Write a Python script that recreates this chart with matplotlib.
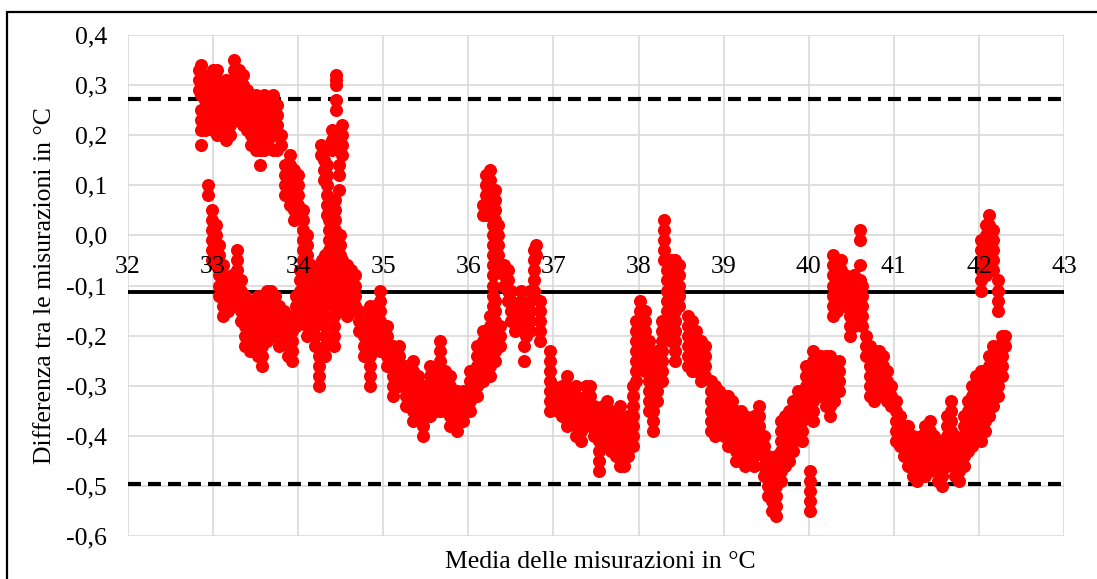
import matplotlib.pyplot as plt
from matplotlib.patches import Rectangle
from matplotlib.transforms import offset_copy

# Bland-Altman: mean of the two measurements (x) vs difference (y)
# each entry is (mean, [differences read at that mean])
top_cluster = [
    (32.84, [0.33, 0.31, 0.29]),
    (32.86, [0.34, 0.31, 0.28, 0.25, 0.23, 0.21, 0.18]),
    (32.90, [0.31, 0.29, 0.27, 0.25, 0.23, 0.21]),
    (32.95, [0.32, 0.30, 0.28, 0.26, 0.24, 0.22]),
    (33.00, [0.33, 0.31, 0.29, 0.27, 0.25, 0.23, 0.21]),
    (33.05, [0.33, 0.31, 0.29, 0.27, 0.25, 0.22, 0.20]),
    (33.10, [0.30, 0.28, 0.26, 0.24, 0.22]),
    (33.15, [0.31, 0.29, 0.27, 0.25, 0.23, 0.21, 0.19]),
    (33.20, [0.30, 0.28, 0.26, 0.24, 0.22, 0.20]),
    (33.25, [0.35, 0.33, 0.31, 0.29, 0.27, 0.25]),
    (33.30, [0.33, 0.31, 0.29, 0.27, 0.25, 0.23]),
    (33.35, [0.32, 0.30, 0.28, 0.26, 0.24, 0.22]),
    (33.40, [0.29, 0.27, 0.25, 0.23, 0.21]),
    (33.45, [0.28, 0.26, 0.24, 0.22, 0.20, 0.18]),
    (33.50, [0.28, 0.26, 0.24, 0.22, 0.20, 0.17]),
    (33.55, [0.27, 0.25, 0.23, 0.21, 0.19, 0.17, 0.14]),
    (33.60, [0.28, 0.26, 0.24, 0.22, 0.20, 0.17]),
    (33.65, [0.27, 0.25, 0.23, 0.21, 0.19]),
    (33.70, [0.28, 0.26, 0.24, 0.22, 0.20, 0.17]),
    (33.75, [0.26, 0.24, 0.22, 0.20, 0.17]),
    (33.80, [0.20, 0.18]),
    (33.85, [0.14, 0.12, 0.10, 0.08]),
    (33.90, [0.16, 0.14, 0.12, 0.10, 0.08, 0.06]),
    (33.95, [0.13, 0.11, 0.09, 0.07, 0.05, 0.03]),
    (34.00, [0.12, 0.10, 0.08, 0.06, 0.04]),
    (34.06, [0.05, 0.03, 0.01, -0.01, -0.03, -0.05]),
    (34.10, [0.00, -0.02, -0.04, -0.06, -0.08]),
]

low_33_34 = [
    (32.94, [0.10, 0.08]),
    (32.99, [0.05, 0.03, 0.01, -0.01, -0.03, -0.05]),
    (33.03, [0.02, 0.00, -0.02, -0.04, -0.06]),
    (33.07, [-0.02, -0.04, -0.06, -0.08, -0.10, -0.12]),
    (33.12, [-0.06, -0.08, -0.10, -0.12, -0.14, -0.16]),
    (33.17, [-0.09, -0.11, -0.13, -0.15]),
    (33.22, [-0.08, -0.10, -0.12, -0.14]),
    (33.28, [-0.03, -0.05, -0.07, -0.09, -0.11, -0.13]),
    (33.33, [-0.09, -0.11, -0.13, -0.15, -0.17]),
    (33.38, [-0.12, -0.14, -0.16, -0.18, -0.20, -0.22]),
    (33.43, [-0.13, -0.15, -0.17, -0.19, -0.21, -0.23]),
    (33.48, [-0.14, -0.16, -0.18, -0.20, -0.22]),
    (33.53, [-0.12, -0.14, -0.16, -0.18, -0.20, -0.22, -0.24]),
    (33.58, [-0.14, -0.16, -0.18, -0.20, -0.22, -0.24, -0.26]),
    (33.63, [-0.11, -0.13, -0.15, -0.17, -0.19, -0.21]),
    (33.68, [-0.11, -0.13, -0.15, -0.17, -0.19]),
    (33.73, [-0.12, -0.14, -0.16, -0.18, -0.20]),
    (33.78, [-0.14, -0.16, -0.18, -0.20, -0.22]),
    (33.83, [-0.15, -0.17, -0.19, -0.21]),
    (33.88, [-0.16, -0.18, -0.20, -0.22, -0.24]),
    (33.93, [-0.17, -0.19, -0.21, -0.23, -0.25]),
    (33.98, [-0.12, -0.14, -0.16, -0.18]),
]

spike_34 = [
    (34.27, [0.18, 0.16]),
    (34.30, [0.17, 0.15, 0.13, 0.11]),
    (34.34, [0.14, 0.12, 0.10, 0.08, 0.06, 0.04]),
    (34.36, [0.05, 0.03, 0.01, -0.01, -0.03]),
    (34.40, [0.21, 0.19, 0.17]),
    (34.43, [0.07, 0.05, 0.03, 0.01, -0.01, -0.03]),
    (34.45, [0.32, 0.31, 0.30, 0.27]),
    (34.44, [0.25]),
    (34.48, [0.14, 0.12, 0.09]),
    (34.49, [0.00, -0.02, -0.04, -0.06]),
    (34.51, [0.22, 0.20, 0.18, 0.16]),
]

low_34_35 = [
    (34.02, [-0.07, -0.09, -0.11, -0.13]),
    (34.06, [-0.08, -0.10, -0.12, -0.14, -0.16]),
    (34.10, [-0.10, -0.12, -0.14, -0.16, -0.18, -0.20]),
    (34.15, [-0.06, -0.08, -0.10, -0.12, -0.14, -0.16]),
    (34.20, [-0.10, -0.12, -0.14, -0.16, -0.18, -0.20, -0.22]),
    (34.24, [-0.24, -0.26, -0.28, -0.30]),
    (34.28, [-0.05, -0.07, -0.09, -0.11, -0.13, -0.15, -0.17]),
    (34.32, [-0.04, -0.06, -0.08, -0.10, -0.12, -0.14, -0.16, -0.18, -0.20, -0.22, -0.24]),
    (34.37, [-0.05, -0.07, -0.09, -0.11, -0.13]),
    (34.42, [-0.06, -0.08, -0.10, -0.12, -0.14, -0.16, -0.18, -0.20, -0.22]),
    (34.47, [-0.04, -0.06, -0.08, -0.10]),
    (34.52, [-0.05, -0.07, -0.09, -0.11, -0.13, -0.15]),
    (34.57, [-0.06, -0.08, -0.10, -0.12, -0.14, -0.16]),
    (34.62, [-0.07, -0.09, -0.11, -0.13, -0.15]),
    (34.67, [-0.08, -0.10, -0.12, -0.14]),
    (34.72, [-0.15, -0.17, -0.19]),
    (34.77, [-0.18, -0.20, -0.22, -0.24]),
    (34.84, [-0.14, -0.16, -0.18, -0.20, -0.22, -0.24, -0.26, -0.28, -0.30]),
    (34.90, [-0.14, -0.16, -0.18, -0.20, -0.22]),
    (34.96, [-0.11, -0.13, -0.15, -0.17, -0.19, -0.21, -0.23]),
    (35.04, [-0.18, -0.20, -0.22, -0.24, -0.26]),
    (35.11, [-0.22, -0.24, -0.26, -0.28, -0.30, -0.32]),
    (35.19, [-0.22, -0.24, -0.26, -0.28, -0.30]),
    (35.27, [-0.26, -0.28, -0.30, -0.32, -0.34]),
    (35.35, [-0.25, -0.27, -0.29, -0.31, -0.33, -0.35, -0.37]),
    (35.41, [-0.28, -0.30, -0.32, -0.34, -0.36]),
    (35.47, [-0.30, -0.32, -0.34, -0.36, -0.38, -0.40]),
    (35.55, [-0.26, -0.28, -0.30, -0.32, -0.34, -0.36]),
    (35.61, [-0.27, -0.29, -0.31, -0.33, -0.35]),
    (35.67, [-0.21, -0.23, -0.25, -0.27, -0.29, -0.31, -0.33, -0.35]),
    (35.73, [-0.27, -0.29, -0.31, -0.33, -0.35]),
    (35.78, [-0.28, -0.30, -0.32, -0.34, -0.36, -0.38]),
    (35.87, [-0.31, -0.33, -0.35, -0.37, -0.39]),
    (35.94, [-0.31, -0.33, -0.35, -0.37]),
    (36.02, [-0.27, -0.29, -0.31, -0.33, -0.35]),
    (36.10, [-0.22, -0.24, -0.26, -0.28, -0.30, -0.32]),
    (36.17, [-0.19, -0.21, -0.23, -0.25, -0.27, -0.29]),
    (36.25, [-0.16, -0.18, -0.20, -0.22, -0.24, -0.26, -0.28]),
    (36.31, [-0.13, -0.15, -0.17, -0.19, -0.21, -0.23, -0.25]),
    (36.37, [-0.18, -0.20, -0.22]),
]

spike_36 = [
    (36.17, [0.06, 0.04]),
    (36.21, [0.12, 0.10, 0.08, 0.06, 0.04]),
    (36.25, [0.13, 0.11, 0.09, 0.07, 0.05]),
    (36.29, [0.02, 0.00, -0.02, -0.04, -0.06, -0.08, -0.10, -0.12, -0.14]),
    (36.31, [0.09, 0.07, 0.05, 0.03, 0.01]),
    (36.35, [0.02, 0.00, -0.02, -0.04, -0.06]),
    (36.42, [-0.06, -0.08, -0.10]),
    (36.47, [-0.07, -0.09, -0.11, -0.13]),
    (36.50, [-0.11, -0.13, -0.15, -0.17]),
    (36.55, [-0.15, -0.17, -0.19]),
    (36.62, [-0.11, -0.13, -0.15, -0.17]),
    (36.65, [-0.22, -0.25]),
    (36.68, [-0.14, -0.16, -0.18, -0.20]),
    (36.72, [-0.11, -0.13, -0.15, -0.17, -0.19]),
    (36.77, [-0.03, -0.05, -0.07, -0.09, -0.11]),
    (36.80, [-0.02, -0.04]),
    (36.84, [-0.13, -0.15, -0.17, -0.19, -0.21]),
]

low_37_38 = [
    (36.96, [-0.23, -0.25, -0.27, -0.29, -0.31, -0.33, -0.35]),
    (37.00, [-0.30, -0.32, -0.34]),
    (37.05, [-0.31, -0.33, -0.35]),
    (37.10, [-0.30, -0.32, -0.34, -0.36]),
    (37.16, [-0.28, -0.30, -0.32, -0.34, -0.36, -0.38]),
    (37.22, [-0.31, -0.33, -0.35, -0.37]),
    (37.27, [-0.30, -0.32, -0.34, -0.36, -0.38, -0.40]),
    (37.32, [-0.33, -0.35, -0.37, -0.39, -0.41]),
    (37.38, [-0.30, -0.32, -0.34, -0.36]),
    (37.43, [-0.30, -0.32, -0.34, -0.36, -0.38]),
    (37.48, [-0.34, -0.36, -0.38, -0.40]),
    (37.53, [-0.35, -0.37, -0.39, -0.41, -0.43, -0.45, -0.47]),
    (37.58, [-0.34, -0.36, -0.38, -0.40, -0.42]),
    (37.63, [-0.33, -0.35, -0.37, -0.39, -0.41]),
    (37.68, [-0.35, -0.37, -0.39, -0.41, -0.43]),
    (37.73, [-0.36, -0.38, -0.40, -0.42, -0.44]),
    (37.78, [-0.34, -0.36, -0.38, -0.40, -0.42, -0.44, -0.46]),
    (37.83, [-0.38, -0.40, -0.42, -0.44, -0.46]),
    (37.88, [-0.36, -0.38, -0.40, -0.42, -0.44]),
    (37.93, [-0.30, -0.32, -0.34, -0.36, -0.38, -0.40, -0.42]),
    (37.97, [-0.17, -0.19, -0.21, -0.23, -0.25, -0.27, -0.29]),
    (38.02, [-0.13, -0.15, -0.17, -0.19, -0.21, -0.23, -0.25]),
    (38.07, [-0.15, -0.17, -0.19, -0.21, -0.23, -0.25, -0.27]),
    (38.12, [-0.21, -0.23, -0.25, -0.27, -0.29, -0.31, -0.33, -0.35]),
    (38.17, [-0.27, -0.29, -0.31, -0.33, -0.35, -0.37, -0.39]),
    (38.22, [-0.23, -0.25, -0.27, -0.29, -0.31, -0.33]),
    (38.27, [-0.17, -0.19, -0.21, -0.23, -0.25, -0.27, -0.29]),
]

spike_38 = [
    (38.30, [0.03, 0.01, -0.01, -0.03, -0.05]),
    (38.33, [-0.07, -0.09, -0.11, -0.13, -0.15, -0.17]),
    (38.38, [-0.05, -0.07, -0.09, -0.11, -0.13, -0.15, -0.17, -0.19, -0.21]),
    (38.43, [-0.05, -0.07, -0.09, -0.11, -0.13, -0.15, -0.17, -0.19, -0.21, -0.23, -0.25]),
    (38.47, [-0.06, -0.08, -0.10, -0.12, -0.14]),
    (38.58, [-0.16, -0.18, -0.20, -0.22, -0.24, -0.26]),
    (38.63, [-0.17, -0.19, -0.21, -0.23, -0.25, -0.27]),
    (38.68, [-0.19, -0.21, -0.23, -0.25, -0.27]),
    (38.73, [-0.21, -0.23, -0.25, -0.27, -0.29]),
    (38.78, [-0.22, -0.24, -0.26, -0.28]),
]

low_39_40 = [
    (38.85, [-0.29, -0.31, -0.33, -0.35, -0.37, -0.39]),
    (38.90, [-0.30, -0.32, -0.34, -0.36, -0.38, -0.40]),
    (38.95, [-0.31, -0.33, -0.35, -0.37, -0.39]),
    (39.00, [-0.32, -0.34, -0.36, -0.38, -0.40]),
    (39.05, [-0.32, -0.34, -0.36, -0.38, -0.40, -0.42]),
    (39.10, [-0.33, -0.35, -0.37, -0.39, -0.41]),
    (39.15, [-0.35, -0.37, -0.39, -0.41, -0.43, -0.45]),
    (39.20, [-0.35, -0.37, -0.39, -0.41, -0.43]),
    (39.25, [-0.36, -0.38, -0.40, -0.42, -0.44, -0.46]),
    (39.30, [-0.38, -0.40, -0.42, -0.44]),
    (39.36, [-0.36, -0.38, -0.40, -0.42, -0.44, -0.46]),
    (39.42, [-0.34, -0.36, -0.38, -0.40, -0.42]),
    (39.47, [-0.40, -0.42, -0.44, -0.46, -0.48]),
    (39.52, [-0.44, -0.46, -0.48, -0.50, -0.52]),
    (39.57, [-0.47, -0.49, -0.51, -0.53, -0.55]),
    (39.62, [-0.44, -0.46, -0.48, -0.50, -0.52, -0.54, -0.56]),
    (39.67, [-0.37, -0.39, -0.41, -0.43, -0.45, -0.47, -0.49]),
    (39.72, [-0.36, -0.38, -0.40, -0.42, -0.44, -0.46]),
    (39.77, [-0.35, -0.37, -0.39, -0.41, -0.43, -0.45]),
    (39.82, [-0.33, -0.35, -0.37, -0.39, -0.41, -0.43]),
    (39.87, [-0.31, -0.33, -0.35, -0.37, -0.39]),
    (39.92, [-0.31, -0.33, -0.35, -0.37, -0.39, -0.41]),
    (39.97, [-0.26, -0.28, -0.30, -0.32, -0.34, -0.36]),
    (40.02, [-0.47, -0.49, -0.51, -0.53, -0.55]),
    (40.05, [-0.23, -0.25, -0.27, -0.29, -0.31, -0.33, -0.35, -0.37]),
    (40.10, [-0.24, -0.26, -0.28, -0.30, -0.32]),
    (40.15, [-0.24, -0.26, -0.28, -0.30, -0.32]),
    (40.20, [-0.24, -0.26, -0.28, -0.30, -0.32, -0.34]),
    (40.25, [-0.24, -0.26, -0.28, -0.30, -0.32, -0.34, -0.36]),
    (40.30, [-0.27, -0.29, -0.31, -0.33]),
    (40.35, [-0.25, -0.27, -0.29, -0.31]),
]

spike_40 = [
    (40.28, [-0.04, -0.06, -0.08, -0.10, -0.12, -0.14, -0.16]),
    (40.33, [-0.05, -0.07, -0.09, -0.11, -0.13, -0.15]),
    (40.38, [-0.05, -0.07, -0.09, -0.11, -0.13]),
    (40.43, [-0.08, -0.10, -0.12, -0.14]),
    (40.48, [-0.10, -0.12, -0.14, -0.16, -0.18, -0.20]),
    (40.53, [-0.08, -0.10, -0.12, -0.14, -0.16, -0.18]),
    (40.60, [0.01, -0.01, -0.06, -0.09]),
    (40.63, [-0.10, -0.12, -0.14, -0.16, -0.18]),
    (40.67, [-0.20, -0.22, -0.24]),
    (40.72, [-0.22, -0.24, -0.26, -0.28, -0.30, -0.32]),
    (40.77, [-0.23, -0.25, -0.27, -0.29, -0.31, -0.33]),
    (40.82, [-0.23, -0.25, -0.27, -0.29, -0.31]),
    (40.87, [-0.24, -0.26, -0.28, -0.30, -0.32]),
    (40.92, [-0.27, -0.29, -0.31, -0.33]),
    (40.97, [-0.30, -0.32, -0.34]),
]

low_41_42 = [
    (41.02, [-0.33, -0.35, -0.37, -0.39, -0.41]),
    (41.07, [-0.36, -0.38, -0.40, -0.42]),
    (41.12, [-0.38, -0.40, -0.42, -0.44]),
    (41.17, [-0.38, -0.40, -0.42, -0.44, -0.46]),
    (41.22, [-0.40, -0.42, -0.44, -0.46, -0.48]),
    (41.27, [-0.41, -0.43, -0.45, -0.47, -0.49]),
    (41.32, [-0.40, -0.42, -0.44, -0.46]),
    (41.37, [-0.38, -0.40, -0.42, -0.44, -0.46, -0.48]),
    (41.42, [-0.37, -0.39, -0.41, -0.43, -0.45, -0.47]),
    (41.47, [-0.40, -0.42, -0.44, -0.46]),
    (41.52, [-0.41, -0.43, -0.45, -0.47, -0.49]),
    (41.57, [-0.42, -0.44, -0.46, -0.48, -0.50]),
    (41.62, [-0.36, -0.38, -0.40, -0.42, -0.44, -0.46]),
    (41.67, [-0.33, -0.35, -0.37, -0.39, -0.41, -0.43]),
    (41.72, [-0.40, -0.42, -0.44, -0.46, -0.48]),
    (41.77, [-0.41, -0.43, -0.45, -0.47, -0.49]),
    (41.82, [-0.36, -0.38, -0.40, -0.42, -0.44, -0.46]),
    (41.87, [-0.33, -0.35, -0.37, -0.39, -0.41, -0.43]),
    (41.92, [-0.30, -0.32, -0.34, -0.36, -0.38, -0.40, -0.42]),
    (41.97, [-0.28, -0.30, -0.32, -0.34, -0.36, -0.38]),
    (42.02, [-0.27, -0.29, -0.31, -0.33, -0.35, -0.37, -0.39, -0.41]),
    (42.07, [-0.27, -0.29, -0.31, -0.33, -0.35, -0.37, -0.39]),
    (42.12, [-0.24, -0.26, -0.28, -0.30, -0.32, -0.34, -0.36]),
    (42.17, [-0.22, -0.24, -0.26, -0.28, -0.30, -0.32, -0.34]),
    (42.22, [-0.22, -0.24, -0.26, -0.28, -0.30, -0.32]),
    (42.27, [-0.20, -0.22, -0.24, -0.26, -0.28]),
    (42.31, [-0.20, -0.22]),
]

spike_42 = [
    (42.03, [-0.01, -0.03, -0.05, -0.07, -0.09, -0.11]),
    (42.08, [0.02, 0.00, -0.02, -0.04, -0.06, -0.08]),
    (42.12, [0.04, 0.02, 0.00, -0.02, -0.04]),
    (42.17, [0.01, -0.01, -0.03, -0.05, -0.07]),
    (42.23, [-0.09, -0.11, -0.13, -0.15]),
]

mean_diff = -0.113
upper_loa = 0.272
lower_loa = -0.497

x_ticks = list(range(32, 44))
y_ticks = [0.4, 0.3, 0.2, 0.1, 0.0, -0.1, -0.2, -0.3, -0.4, -0.5, -0.6]

sections = [top_cluster, low_33_34, spike_34, low_34_35, spike_36, low_37_38,
            spike_38, low_39_40, spike_40, low_41_42, spike_42]
mean_vals = [x for sec in sections for x, ys in sec for _ in ys]
diff_vals = [y for sec in sections for _, ys in sec for y in ys]

plt.rcParams['font.family'] = ['Liberation Serif', 'DejaVu Serif']
fs = 18.5

fig = plt.figure(figsize=(10.97, 5.79), dpi=100)
ax = fig.add_axes([128 / 1097, 1 - 536 / 579, (1064 - 128) / 1097, (536 - 35) / 579])

ax.axhline(upper_loa, color='black', lw=3, dashes=(3.1, 1.7), zorder=2)
ax.axhline(lower_loa, color='black', lw=3, dashes=(3.1, 1.7), zorder=2)
ax.axhline(mean_diff, color='black', lw=2.8, zorder=2)

ax.plot(mean_vals, diff_vals, 'o', color='#ff0000', ms=9.4, mec='none', zorder=3)

ax.set_xlim(32, 43)
ax.set_ylim(-0.6, 0.4)
ax.set_xticks(x_ticks)
ax.set_yticks(y_ticks)
ax.set_xticklabels([])
ax.set_yticklabels([f"{v:.1f}".replace('.', ',').replace('-0,0', '0,0') for v in y_ticks])
ax.grid(True, color='#d9d9d9', lw=1.2, zorder=0)
ax.set_axisbelow(True)
for s in ['top', 'right', 'left', 'bottom']:
    ax.spines[s].set_visible(False)
ax.tick_params(axis='both', length=0, labelsize=fs, colors='black')
ax.tick_params(axis='y', pad=15)

# x tick labels sit under the y = 0 line, drawn above the points
below_zero = offset_copy(ax.transData, fig=fig, y=-15, units='points')
for v in x_ticks:
    ax.text(v, 0, str(v), transform=below_zero, ha='center', va='top',
            fontsize=fs, zorder=5, clip_on=False)

fig.text(600 / 1097, 1 - 562 / 579, 'Media delle misurazioni in °C',
         ha='center', va='center', fontsize=fs)
fig.text(45 / 1097, 1 - 286 / 579, 'Differenza tra le misurazioni in °C',
         ha='center', va='center', rotation=90, fontsize=fs)

fig.patches.append(Rectangle((7 / 1097, -0.1), 1.2, 1.1 - 12 / 579,
                             transform=fig.transFigure, fill=False,
                             edgecolor='black', lw=1.6))

fig.savefig('out.png', dpi=100)
